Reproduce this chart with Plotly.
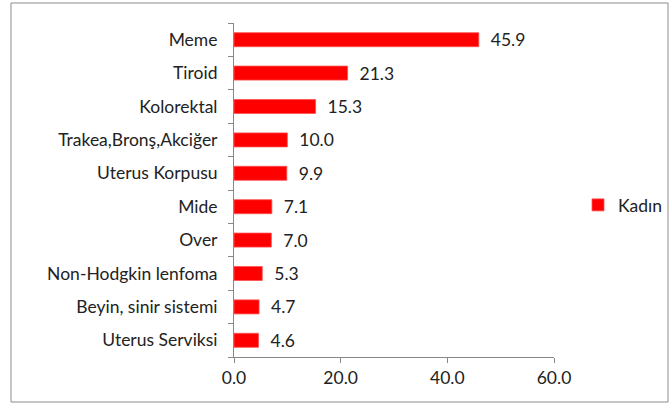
import plotly.graph_objects as go

categories = ["Meme", "Tiroid", "Kolorektal", "Trakea,Bronş,Akciğer", "Uterus Korpusu",
              "Mide", "Over", "Non-Hodgkin lenfoma", "Beyin, sinir sistemi", "Uterus Serviksi"]
values = [45.9, 21.3, 15.3, 10.0, 9.9, 7.1, 7.0, 5.3, 4.7, 4.6]
series_name = "Kadın"
x_ticks = [0, 20, 40, 60]
x_tick_labels = ["0.0", "20.0", "40.0", "60.0"]

W, H = 670, 405
L, R, T, B = 234, 116, 23, 48
pw, ph = W - L - R, H - T - B

font = "Lato, 'Open Sans', sans-serif"
fs = 17.5

fig = go.Figure()
fig.add_trace(go.Bar(
    x=values, y=categories, orientation="h", name=series_name,
    marker=dict(color="#FF0000", line=dict(color="#FF5050", width=0.8)),
    width=0.42,
    text=["  " + f"{v:.1f}" for v in values], textposition="outside",
    constraintext="none",
    textfont=dict(family=font, size=fs, color="#222222"),
    cliponaxis=False, showlegend=True,
))

fig.update_layout(
    width=W, height=H,
    margin=dict(l=L, r=R, t=T, b=B, autoexpand=False),
    paper_bgcolor="white", plot_bgcolor="white",
    font=dict(family=font, size=fs, color="#222222"),
    showlegend=True,
    legend=dict(x=(578 - L) / pw, y=(H - B - 205) / ph, xanchor="left", yanchor="middle",
                font=dict(family=font, size=fs, color="#222222"),
                itemwidth=30, bgcolor="rgba(0,0,0,0)"),
    xaxis=dict(range=[0, 60], tickvals=x_ticks, ticktext=x_tick_labels,
               showgrid=False, zeroline=False, showline=True, linecolor="#888888", linewidth=1,
               ticks="outside", ticklen=5, tickcolor="#888888",
               tickfont=dict(family=font, size=fs, color="#222222"), fixedrange=True),
    yaxis=dict(categoryorder="array", categoryarray=categories[::-1],
               showgrid=False, zeroline=False, showline=True, linecolor="#888888", linewidth=1,
               ticks="outside", ticklen=5, tickcolor="#888888", tickson="boundaries",
               ticklabelstandoff=12,
               tickfont=dict(family=font, size=fs, color="#222222"), fixedrange=True),
    shapes=[dict(type="rect", xref="paper", yref="paper",
                 x0=(11 - L) / pw, x1=(668 - L) / pw,
                 y0=(H - B - 402) / ph, y1=(H - B - 3) / ph,
                 line=dict(color="#8C8C8C", width=1), fillcolor="rgba(0,0,0,0)")],
)

fig.write_html("out.html", config={"displayModeBar": False},
               post_script="document.body.style.margin='0';")
